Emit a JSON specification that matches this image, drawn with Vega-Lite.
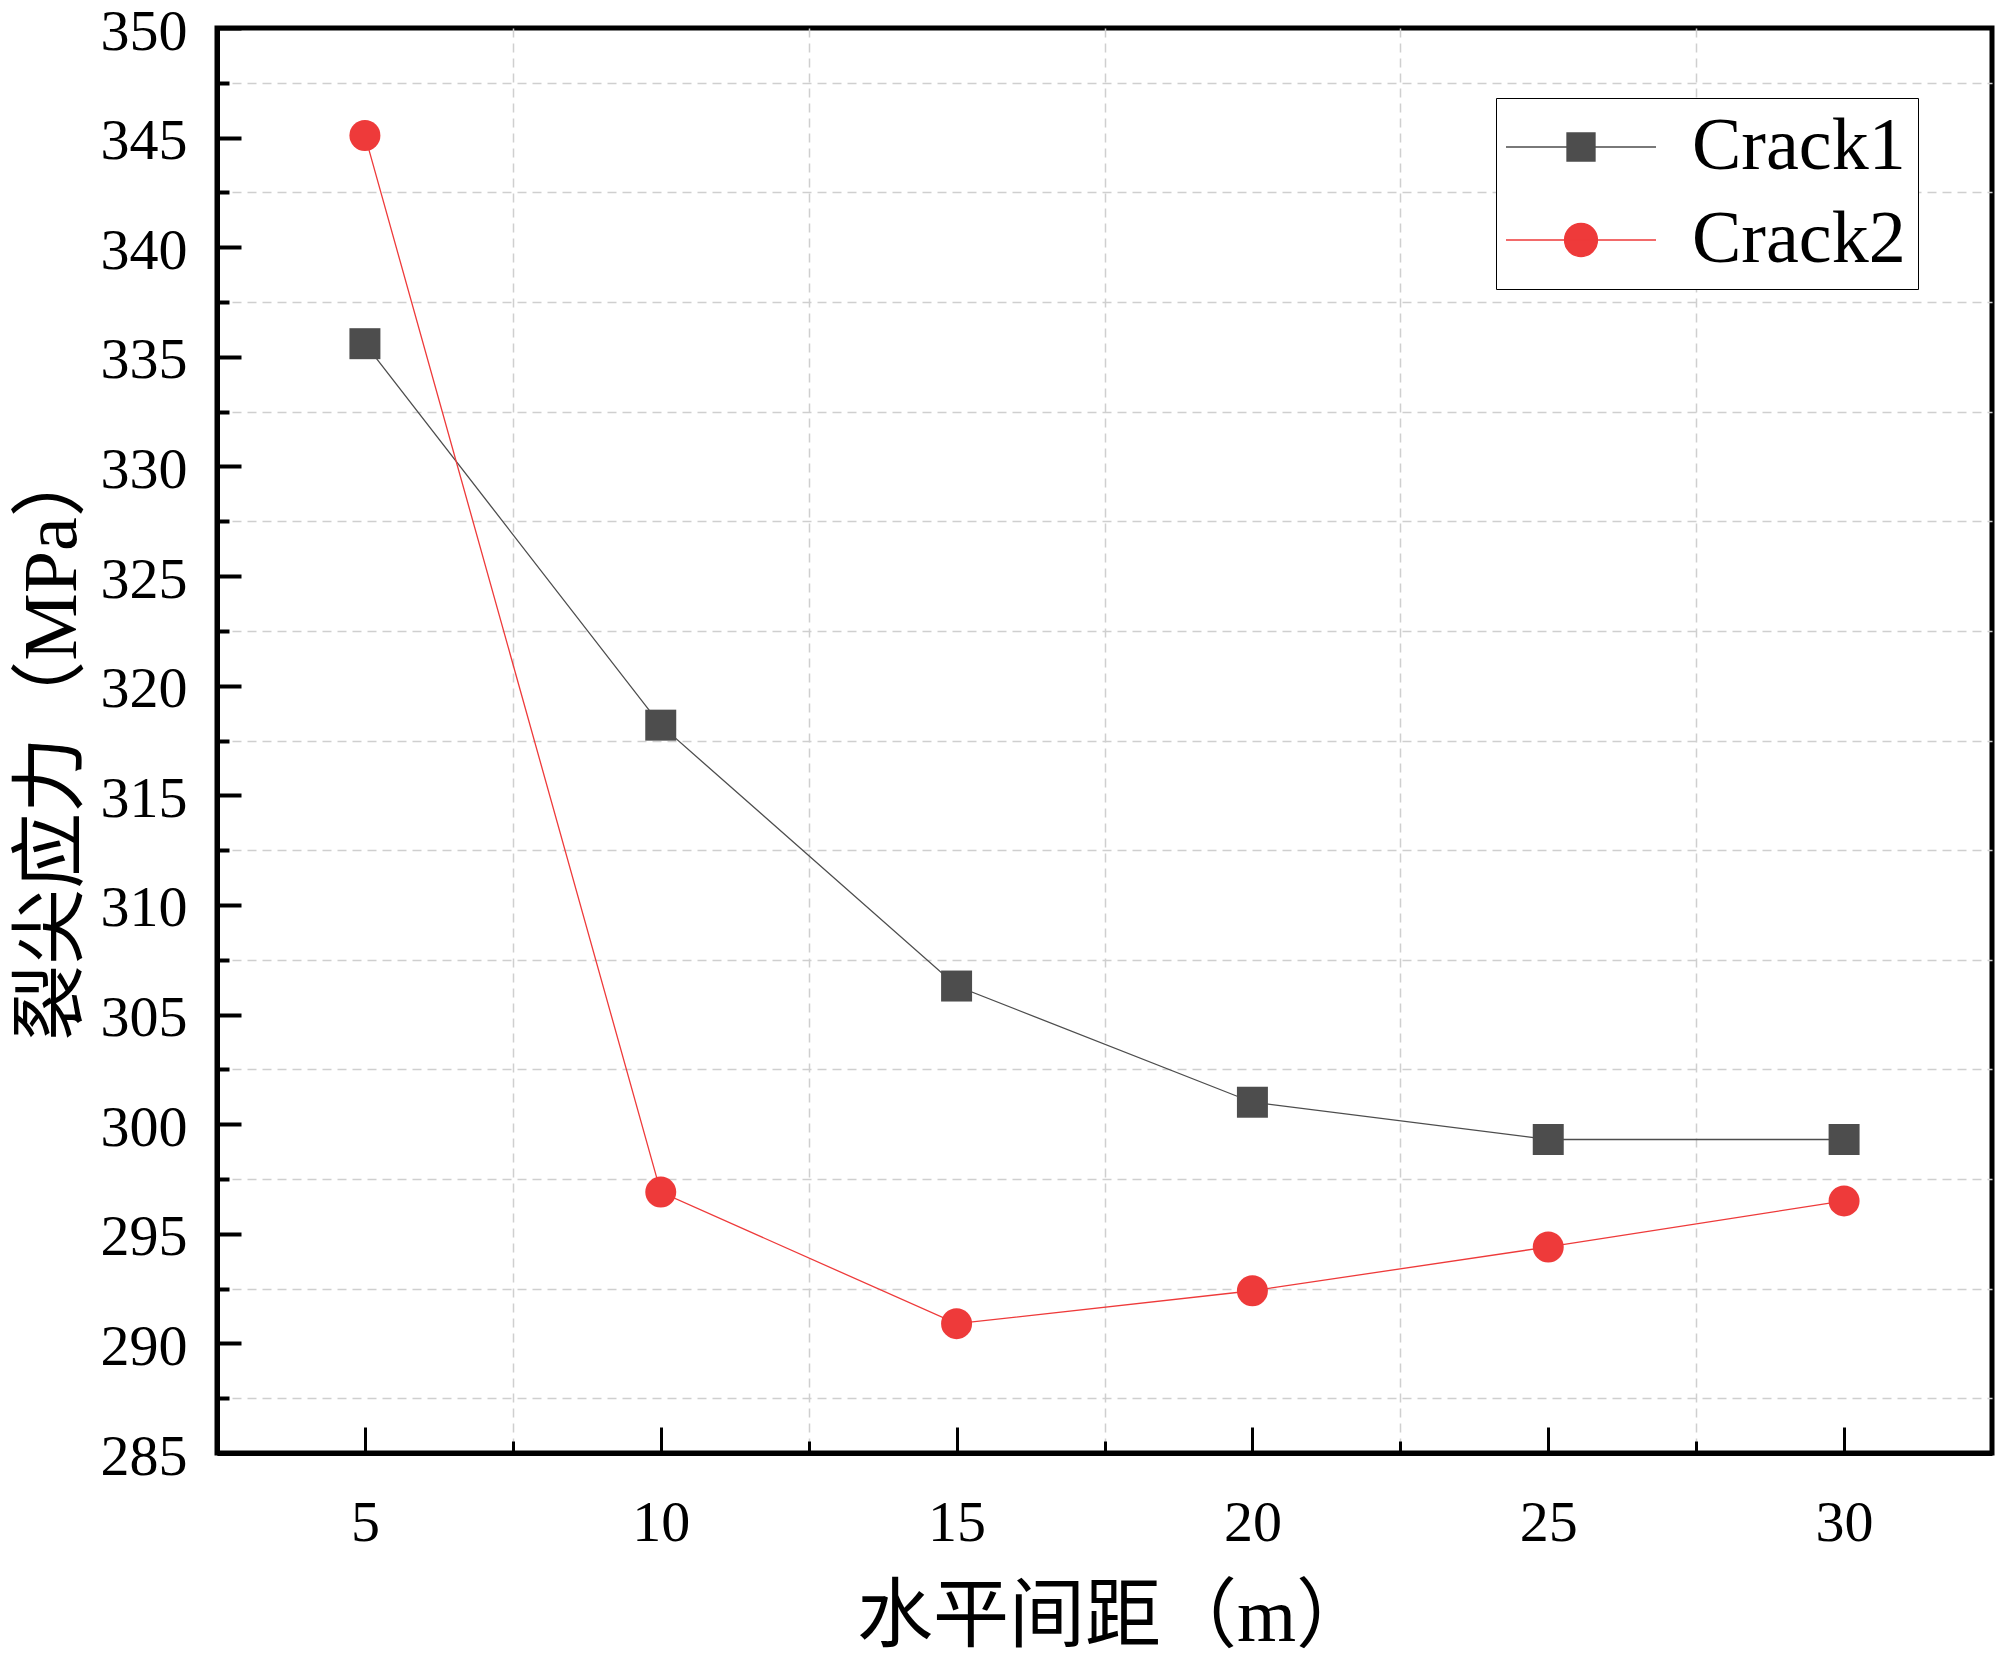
{
  "$schema": "https://vega.github.io/schema/vega-lite/v6.json",
  "width": 1775,
  "height": 1425,
  "autosize": {"type": "none"},
  "padding": {"left": 217, "top": 28, "right": 8, "bottom": 204},
  "background": "white",
  "config": {
    "view": {"stroke": "black", "strokeWidth": 5},
    "font": "Liberation Serif",
    "axis": {
      "domainColor": "black",
      "domainWidth": 5,
      "tickColor": "black",
      "labelColor": "black",
      "labelFont": "Liberation Serif",
      "titleFont": "Liberation Serif, Noto Sans CJK SC",
      "titleFontWeight": "normal",
      "titleColor": "black",
      "labelFlush": false,
      "labelOverlap": false
    }
  },
  "data": {
    "values": [
      {"spacing": 5, "stress": 335.6, "series": "Crack1"},
      {"spacing": 10, "stress": 318.2, "series": "Crack1"},
      {"spacing": 15, "stress": 306.3, "series": "Crack1"},
      {"spacing": 20, "stress": 301.0, "series": "Crack1"},
      {"spacing": 25, "stress": 299.3, "series": "Crack1"},
      {"spacing": 30, "stress": 299.3, "series": "Crack1"},
      {"spacing": 5, "stress": 345.1, "series": "Crack2"},
      {"spacing": 10, "stress": 296.9, "series": "Crack2"},
      {"spacing": 15, "stress": 290.9, "series": "Crack2"},
      {"spacing": 20, "stress": 292.4, "series": "Crack2"},
      {"spacing": 25, "stress": 294.4, "series": "Crack2"},
      {"spacing": 30, "stress": 296.5, "series": "Crack2"}
    ]
  },
  "layer": [
    {
      "mark": {"type": "point", "opacity": 0},
      "encoding": {
        "x": {
          "field": "spacing", "type": "quantitative",
          "scale": {"domain": [2.5, 32.5], "nice": false, "zero": false},
          "axis": {
            "orient": "bottom",
            "values": [7.5, 12.5, 17.5, 22.5, 27.5],
            "tickSize": -12, "tickWidth": 3,
            "labels": false, "domain": false, "title": null,
            "grid": true, "gridColor": "#cfcfcf", "gridWidth": 1.5, "gridDash": [9, 6]
          }
        },
        "y": {
          "field": "stress", "type": "quantitative",
          "scale": {"domain": [285, 350], "nice": false, "zero": false},
          "axis": {
            "orient": "left",
            "values": [287.5, 292.5, 297.5, 302.5, 307.5, 312.5, 317.5, 322.5, 327.5, 332.5, 337.5, 342.5, 347.5],
            "tickSize": -12, "tickWidth": 4,
            "labels": false, "domain": false, "title": null,
            "grid": true, "gridColor": "#cfcfcf", "gridWidth": 1.5, "gridDash": [9, 6]
          }
        }
      }
    },
    {
      "mark": {"type": "line", "strokeWidth": 1.3},
      "encoding": {
        "x": {"field": "spacing", "type": "quantitative", "axis": null},
        "y": {"field": "stress", "type": "quantitative", "axis": null},
        "color": {"field": "series", "type": "nominal"}
      }
    },
    {
      "transform": [{"filter": "datum.series === 'Crack1'"}],
      "mark": {"type": "point", "shape": "square", "filled": true, "size": 960, "opacity": 1},
      "encoding": {
        "x": {
          "field": "spacing", "type": "quantitative",
          "axis": {
            "orient": "bottom",
            "values": [5, 10, 15, 20, 25, 30],
            "tickSize": -26, "tickWidth": 3,
            "labelFontSize": 58, "labelPadding": 67,
            "grid": false,
            "title": "水平间距（m）", "titleFontSize": 76,
            "titleX": 897, "titleY": 164, "titleBaseline": "middle"
          }
        },
        "y": {
          "field": "stress", "type": "quantitative",
          "axis": {
            "orient": "left",
            "values": [285, 290, 295, 300, 305, 310, 315, 320, 325, 330, 335, 340, 345, 350],
            "tickSize": -24, "tickWidth": 4,
            "labelFontSize": 58, "labelPadding": 54, "labelOffset": 4,
            "grid": false,
            "title": "裂尖应力（MPa）", "titleFontSize": 76,
            "titleX": -165, "titleY": 712.5, "titleBaseline": "middle"
          }
        },
        "color": {
          "field": "series", "type": "nominal",
          "scale": {"domain": ["Crack1", "Crack2"], "range": ["#4d4d4d", "#ee3a3a"]},
          "legend": {
            "title": null,
            "orient": "none",
            "legendX": 1279,
            "legendY": 70,
            "padding": 12,
            "strokeColor": "black",
            "fillColor": "white",
            "labelFont": "Liberation Serif",
            "labelFontSize": 74,
            "labelColor": "black",
            "labelLimit": 0,
            "symbolSize": 3600,
            "symbolType": {"expr": "datum.value === 'Crack1' ? 'M-1.3,0H3.7M0.733,-0.467H1.667V0.467H0.733Z' : 'M-1.3,0H3.7M0.65,0A0.55,0.55 0 1,0 1.75,0A0.55,0.55 0 1,0 0.65,0Z'"},
            "labelOffset": 110,
            "rowPadding": 19,
            "symbolStrokeWidth": 1.3
          }
        }
      }
    },
    {
      "transform": [{"filter": "datum.series === 'Crack2'"}],
      "mark": {"type": "point", "shape": "circle", "filled": true, "size": 960, "opacity": 1},
      "encoding": {
        "x": {"field": "spacing", "type": "quantitative", "axis": null},
        "y": {"field": "stress", "type": "quantitative", "axis": null},
        "color": {"field": "series", "type": "nominal"}
      }
    }
  ],
  "resolve": {"axis": {"x": "independent", "y": "independent"}}
}
